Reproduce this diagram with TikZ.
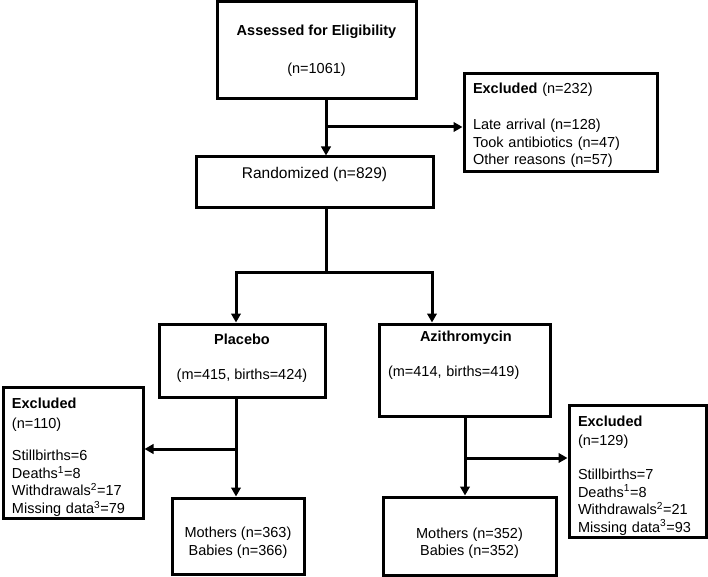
\documentclass[tikz,border=0pt]{standalone}
\usepackage{fontspec}
\setmainfont{Liberation Sans}
\usetikzlibrary{arrows.meta}

\tikzset{
  box/.style={draw, line width=3pt, inner xsep=9pt, inner ysep=0pt,
    font=\fontsize{14.5}{17.5}\selectfont},
  exclbox/.style={box, align=left},
  link/.style={line width=3pt},
  >={Triangle[length=9pt,width=9.5pt]}
}

\begin{document}
\begin{tikzpicture}[x=1pt,y=-1pt]
\useasboundingbox (0,0) rectangle (708,577);

% Define the boxes
\node[box, align=center, minimum width=199, minimum height=97] (assess) at (316.5,50.5)
  {\textbf{Assessed for Eligibility}\\[20.5pt](n=1061)};
\node[exclbox, text width=175, minimum height=98] (excl1) at (560.5,123)
  {\mbox{}\\[-1.5pt]\textbf{Excluded} (n=232)\\[18.5pt]Late arrival (n=128)\\Took antibiotics (n=47)\\Other reasons (n=57)};
\node[box, font=\fontsize{15.5}{18}\selectfont, minimum width=237, minimum height=50, text depth=19pt] (rand) at (314.5,182)
  {Randomized (n=829)};
\node[box, align=center, minimum width=166, minimum height=73] (plac) at (242,360.5)
  {\textbf{Placebo}\\[17.5pt](m=415, births=424)\\[-10pt]\mbox{}};
\node[box, align=left, text width=153, minimum height=92] (azit) at (464.5,370)
  {\hspace*{32pt}\textbf{Azithromycin}\\[17pt](m=414, births=419)\\[15.5pt]\mbox{}};
\node[exclbox, text width=122, minimum height=131] (excl2) at (73,452.5)
  {\mbox{}\\[3pt]\textbf{Excluded}\\[2.5pt](n=110)\\[14.5pt]Stillbirths=6\\Deaths\textsuperscript{1}=8\\Withdrawals\textsuperscript{2}=17\\Missing data\textsuperscript{3}=79};
\node[exclbox, text width=119, minimum height=132] (excl3) at (637.5,471)
  {\mbox{}\\[2pt]\textbf{Excluded}\\[1.5pt](n=129)\\[16.5pt]Stillbirths=7\\Deaths\textsuperscript{1}=8\\Withdrawals\textsuperscript{2}=21\\Missing data\textsuperscript{3}=93};
\node[box, align=center, minimum width=132, minimum height=76] (moth1) at (238,536)
  {\mbox{}\\[6pt]Mothers (n=363)\\Babies (n=366)};
\node[box, align=center, minimum width=173, minimum height=78] (moth2) at (469.5,536)
  {\mbox{}\\[7pt]Mothers (n=352)\\Babies (n=352)};

% Junction points of the connectors
\coordinate (j1) at (326,127);
\coordinate (j2) at (326,272);
\coordinate (j2l) at (236,272);
\coordinate (j2r) at (432,272);
\coordinate (j3) at (236,449);
\coordinate (j4) at (465,458);

% Draw the connectors
\draw[link,->] (assess.south -| j1) -- (rand.north -| j1);
\draw[link,->] (j1) -- (excl1.west |- j1);
\draw[link] (rand.south -| j2) -- (j2);
\draw[link,->] (j2) -| (plac.north -| j2l);
\draw[link,->] (j2) -| (azit.north -| j2r);
\draw[link,->] (plac.south -| j3) -- (moth1.north -| j3);
\draw[link,->] (j3) -- (excl2.east |- j3);
\draw[link,->] (azit.south -| j4) -- (moth2.north -| j4);
\draw[link,->] (j4) -- (excl3.west |- j4);
\end{tikzpicture}
\end{document}
